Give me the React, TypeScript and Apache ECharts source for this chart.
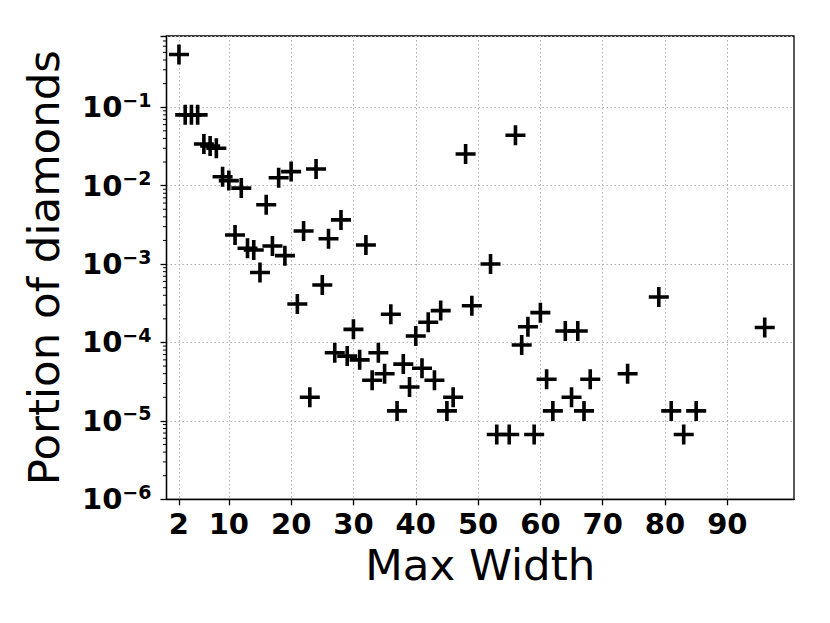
import React, { useEffect, useRef } from "react";
import * as echarts from "echarts";

const widths = [2, 3, 4, 5, 6, 7, 8, 9, 10, 11, 12, 13, 14, 15, 16, 17, 18, 19, 20, 21, 22, 23, 24, 25, 26, 27, 28, 29, 30, 31, 32, 33, 34, 35, 36, 37, 38, 39, 40, 41, 42, 43, 44, 45, 46, 48, 49, 52, 53, 55, 56, 57, 58, 59, 60, 61, 62, 64, 65, 66, 67, 68, 74, 79, 81, 83, 85, 96];
const portions = [
  0.47, 0.08, 0.08, 0.08, 0.034, 0.032, 0.030, 0.013, 0.0116, 0.00235,
  0.0093, 0.00159, 0.00151, 0.00078, 0.0057, 0.0017, 0.0126, 0.00128, 0.0151, 0.00031,
  0.00264, 0.00002, 0.0163, 0.00054, 0.0021, 0.000074, 0.00366, 0.000067, 0.000147, 0.00006,
  0.00175, 0.000033, 0.000074, 0.00004, 0.000229, 0.0000134, 0.000053, 0.000027, 0.000121, 0.000047,
  0.000181, 0.000033, 0.000255, 0.0000134, 0.00002, 0.0253, 0.000294, 0.001, 0.0000067, 0.0000067,
  0.044, 0.000093, 0.000159, 0.0000067, 0.00024, 0.000034, 0.0000134, 0.00014, 0.00002, 0.00014,
  0.0000134, 0.000034, 0.00004, 0.00038, 0.0000134, 0.0000067, 0.0000134, 0.000155,
];
const xTickLabels = [2, 10, 20, 30, 40, 50, 60, 70, 80, 90];
const yExponents = [-6, -5, -4, -3, -2, -1];
const minorMultipliers = [2, 3, 4, 5, 6, 7, 8, 9];

const FONT = "DejaVu Sans";
const PLUS = "path://M8.2,0H11.8V8.2H20V11.8H11.8V20H8.2V11.8H0V8.2H8.2Z";

export default function App() {
  const ref = useRef<HTMLDivElement>(null);
  useEffect(() => {
    if (!ref.current) return;
    const chart = echarts.init(ref.current, null, { renderer: "svg" });
    const points = widths.map((w, i) => [w, portions[i]]);
    const minorVals: number[][] = [];
    yExponents.forEach((e) => {
      minorMultipliers.forEach((m) => {
        const v = m * Math.pow(10, e);
        if (v <= 0.81) minorVals.push([0, v]);
      });
    });
    chart.setOption({
      animation: false,
      backgroundColor: "#ffffff",
      grid: {
        left: 166.5,
        right: 36,
        top: 36,
        bottom: 123.7,
        show: true,
        borderColor: "#000",
        borderWidth: 1.3,
        backgroundColor: "#fff",
        outerBoundsMode: "none",
        containLabel: false,
      },
      xAxis: {
        type: "value",
        min: 0,
        max: 100.7,
        name: "Max Width",
        nameLocation: "middle",
        nameGap: 43,
        nameTextStyle: { fontFamily: FONT, fontSize: 43.5, color: "#000" },
        axisLine: { lineStyle: { color: "#000", width: 1.3 } },
        axisTick: { show: true, length: 6, lineStyle: { color: "#000", width: 1.3 }, customValues: xTickLabels },
        axisLabel: {
          customValues: xTickLabels,
          margin: 10,
          fontFamily: FONT,
          fontWeight: "bold",
          fontSize: 29,
          color: "#000",
        },
        splitLine: { show: true, lineStyle: { color: "#b0b0b0", width: 1, type: [1.5, 2.5] } },
      },
      yAxis: {
        type: "log",
        logBase: 10,
        min: 1e-6,
        max: 0.81,
        name: "Portion of diamonds",
        nameLocation: "middle",
        nameGap: 101,
        nameTextStyle: { fontFamily: FONT, fontSize: 43.5, color: "#000" },
        axisLine: { show: true, lineStyle: { color: "#000", width: 1.3 } },
        axisTick: { show: true, length: 6, lineStyle: { color: "#000", width: 1.3 } },
        axisLabel: {
          margin: 15,
          color: "#000",
          formatter: (v: number) => {
            const e = Math.log10(v);
            if (Math.abs(e - Math.round(e)) > 1e-6) return "";
            return `{b|10}{s|\u2212${-Math.round(e)}}`;
          },
          rich: {
            b: { fontFamily: FONT, fontWeight: "bold", fontSize: 29, lineHeight: 34, color: "#000" },
            s: { fontFamily: FONT, fontWeight: "bold", fontSize: 19, lineHeight: 18, verticalAlign: "top", color: "#000" },
          },
        },
        splitLine: { show: true, lineStyle: { color: "#b0b0b0", width: 1, type: [1.5, 2.5] } },
      },
      series: [
        {
          type: "custom",
          data: minorVals,
          silent: true,
          z: 1,
          renderItem: (params: any, api: any) => {
            const p = api.coord([api.value(0), api.value(1)]);
            return {
              type: "line",
              shape: { x1: p[0] - 3.5, y1: p[1], x2: p[0], y2: p[1] },
              style: { stroke: "#000", lineWidth: 1 },
            };
          },
        },
        {
          type: "scatter",
          data: points,
          symbol: PLUS,
          symbolSize: 20,
          itemStyle: { color: "#000", opacity: 1 },
          z: 3,
        },
      ],
    });
    return () => chart.dispose();
  }, []);
  return <div ref={ref} style={{ position: "fixed", left: 0, top: 0, width: 830, height: 623 }} />;
}
